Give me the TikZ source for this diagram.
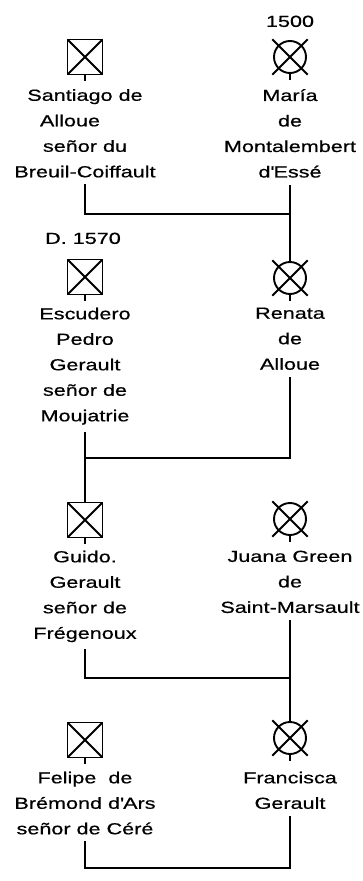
\documentclass[tikz,border=0pt]{standalone}
\usepackage{fontspec}
\setmainfont{Liberation Sans}[FakeStretch=1.35,FakeBold=0.6]
\tikzset{
  trazo/.style={line width=1.9pt},
  enlace/.style={line width=2.4pt, line cap=rect, shorten <=8pt},
  varon/.style={draw, trazo, rectangle, minimum size=35pt, inner sep=0pt,
    path picture={\draw[trazo] (path picture bounding box.north west) -- (path picture bounding box.south east)
      (path picture bounding box.north east) -- (path picture bounding box.south west);}},
  mujer/.style={draw, trazo, circle, minimum size=32pt, inner sep=0pt},
  texto/.style={anchor=north, align=center, inner sep=0pt, font=\fontsize{16}{25.5}\selectfont}
}
% simbolos
\newcommand{\Varon}[2]{\node[varon] (#1) at (#2) {};
  \draw[trazo] (#1.south) -- ++(0,6);}
\newcommand{\Mujer}[2]{\node[mujer] (#1) at (#2) {};
  \draw[trazo, shorten <=-8pt, shorten >=-8pt] (#1.north west) -- (#1.south east);
  \draw[trazo, shorten <=-8pt, shorten >=-8pt] (#1.north east) -- (#1.south west);
  \draw[trazo] (#1.south) -- ++(0,6);}
\begin{document}
\begin{tikzpicture}[x=1pt,y=-1pt]
\useasboundingbox (0,0) rectangle (363,881);
% generacion 1
\node[texto] (d1500) at (290,15.5) {1500};
\Varon{santiago}{85,57}
\Mujer{maria}{290,57}
\node[texto] (santiagoT) at (85,89) {Santiago de\\Alloue\hspace*{30pt}\null\\señor du\\Breuil-Coiffault};
\node[texto] (mariaT) at (290,89) {María\\de\\Montalembert\\d\textquotesingle Essé};
% generacion 2
\node[texto] (d1570) at (83,232.5) {D. 1570};
\Varon{pedro}{85,277}
\Mujer{renata}{290,278}
\node[texto] (pedroT) at (85,307.5) {Escudero\\Pedro\\Gerault\\señor de\\Moujatrie};
\node[texto] (renataT) at (290,307.5) {Renata\\de\\Alloue};
% generacion 3
\Varon{guido}{85,520}
\Mujer{juana}{290,519}
\node[texto] (guidoT) at (85,550.5) {Guido.\\Gerault\\señor de\\Frégenoux};
\node[texto] (juanaT) at (290,550.5) {Juana Green\\de\\Saint-Marsault};
% generacion 4
\Varon{felipe}{85,740}
\Mujer{francisca}{290,738}
\node[texto] (felipeT) at (85,771.5) {Felipe\ \ de\\Brémond d\textquotesingle Ars\\señor de Céré};
\node[texto] (franciscaT) at (290,771.5) {Francisca\\Gerault};
% enlaces
\coordinate (b1) at (290,214);
\coordinate (b2) at (85,458);
\coordinate (b3) at (290,678);
\coordinate (b4) at (85,868);
\draw[enlace] (santiagoT.south -| santiago) |- (b1);
\draw[enlace] (mariaT.south) -- (renata.north);
\draw[enlace] (pedroT.south -| pedro) -- (guido.north);
\draw[enlace] (renataT.south) |- (b2);
\draw[enlace] (guidoT.south -| guido) |- (b3);
\draw[enlace] (juanaT.south) -- (francisca.north);
\draw[enlace] (franciscaT.south) |- (b4);
\draw[enlace] (felipeT.south -| felipe) -- (b4);
\end{tikzpicture}
\end{document}
